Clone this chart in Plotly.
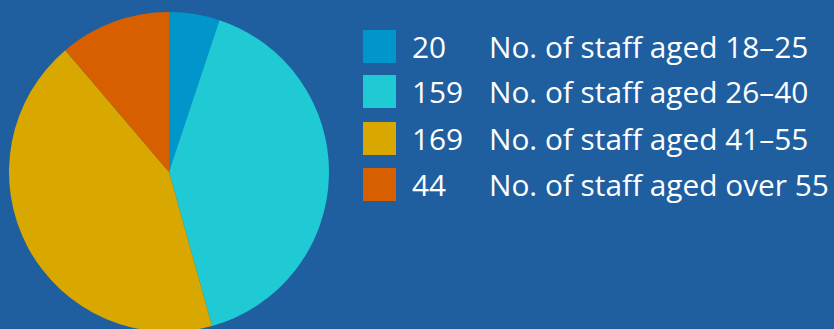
import plotly.graph_objects as go

categories = ["No. of staff aged 18–25", "No. of staff aged 26–40",
              "No. of staff aged 41–55", "No. of staff aged over 55"]
values = [20, 159, 169, 44]
colors = ["#0096cc", "#1fcad4", "#d8a800", "#d85f00"]

W, H = 834, 344
BG = "#1f5fa0"

def px_x(x):
    return x / W

def px_y(y):
    return 1 - y / H

cx, cy, r = 169, 172, 160

fig = go.Figure(go.Pie(
    labels=categories, values=values, sort=False, direction="clockwise",
    rotation=0, textinfo="none", hoverinfo="label+value",
    marker=dict(colors=colors, line=dict(width=0)),
    domain=dict(x=[px_x(cx - r), px_x(cx + r)], y=[px_y(cy + r), px_y(cy - r)]),
    showlegend=False,
))

row_centers = [46.5, 91.5, 138.5, 184.5]
font = dict(family="Open Sans", size=29.8, color="white")
for i, (cat, val, col) in enumerate(zip(categories, values, colors)):
    yc = row_centers[i]
    fig.add_shape(type="rect", xref="paper", yref="paper",
                  x0=px_x(363), x1=px_x(396), y0=px_y(yc + 16.5), y1=px_y(yc - 16.5),
                  fillcolor=col, line=dict(width=0))
    fig.add_annotation(xref="paper", yref="paper", x=px_x(410), y=px_y(yc),
                       text=str(val), showarrow=False, xanchor="left", yanchor="middle",
                       font=font)
    fig.add_annotation(xref="paper", yref="paper", x=px_x(487), y=px_y(yc),
                       text=cat, showarrow=False, xanchor="left", yanchor="middle",
                       font=font)

fig.update_layout(width=W, height=H, margin=dict(l=0, r=0, t=0, b=0),
                  paper_bgcolor=BG, plot_bgcolor=BG)

fig.write_html("out.html", config={"displayModeBar": False},
               post_script="document.body.style.margin='0';document.body.style.background='%s';" % BG)
